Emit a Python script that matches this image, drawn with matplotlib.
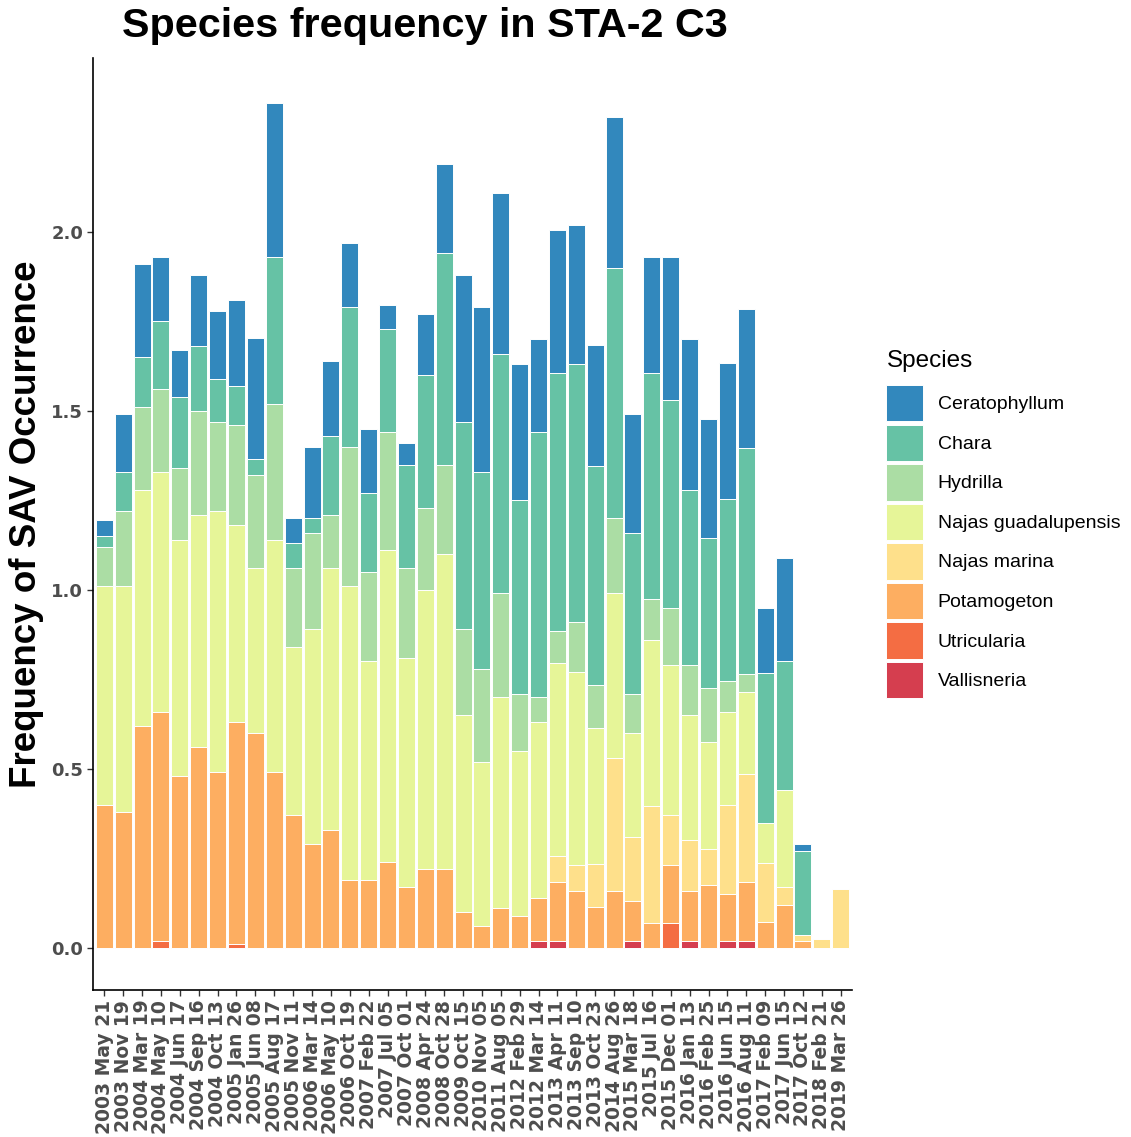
import matplotlib
matplotlib.use("Agg")
import matplotlib.pyplot as plt
import numpy as np

dates = ["2003 May 21", "2003 Nov 19", "2004 Mar 19", "2004 May 10", "2004 Jun 17",
         "2004 Sep 16", "2004 Oct 13", "2005 Jan 26", "2005 Jun 08", "2005 Aug 17",
         "2005 Nov 11", "2006 Mar 14", "2006 May 10", "2006 Oct 19", "2007 Feb 22",
         "2007 Jul 05", "2007 Oct 01", "2008 Apr 24", "2008 Oct 28", "2009 Oct 15",
         "2010 Nov 05", "2011 Aug 05", "2012 Feb 29", "2012 Mar 14", "2013 Apr 11",
         "2013 Sep 10", "2013 Oct 23", "2014 Aug 26", "2015 Mar 18", "2015 Jul 16",
         "2015 Dec 01", "2016 Jan 13", "2016 Feb 25", "2016 Jun 15", "2016 Aug 11",
         "2017 Feb 09", "2017 Jun 15", "2017 Oct 12", "2018 Feb 21", "2019 Mar 26"]

ceratophyllum = [0.045, 0.16, 0.26, 0.18, 0.13, 0.20, 0.19, 0.24, 0.34, 0.43,
                 0.07, 0.20, 0.21, 0.18, 0.18, 0.065, 0.06, 0.17, 0.25, 0.41,
                 0.46, 0.45, 0.38, 0.26, 0.40, 0.39, 0.34, 0.42, 0.33, 0.325,
                 0.40, 0.42, 0.33, 0.38, 0.39, 0.18, 0.29, 0.02, 0.0, 0.0]
chara = [0.03, 0.11, 0.14, 0.19, 0.20, 0.18, 0.12, 0.11, 0.045, 0.41,
         0.07, 0.04, 0.22, 0.39, 0.22, 0.29, 0.29, 0.37, 0.59, 0.58,
         0.55, 0.67, 0.54, 0.74, 0.72, 0.72, 0.61, 0.70, 0.45, 0.63,
         0.58, 0.49, 0.42, 0.51, 0.63, 0.42, 0.36, 0.235, 0.0, 0.0]
hydrilla = [0.11, 0.21, 0.23, 0.23, 0.20, 0.29, 0.25, 0.28, 0.26, 0.38,
            0.22, 0.27, 0.15, 0.39, 0.25, 0.33, 0.25, 0.23, 0.25, 0.24,
            0.26, 0.29, 0.16, 0.07, 0.09, 0.14, 0.12, 0.21, 0.11, 0.115,
            0.16, 0.14, 0.15, 0.085, 0.05, 0.0, 0.0, 0.0, 0.0, 0.0]
najas_guadalupensis = [0.61, 0.63, 0.66, 0.67, 0.66, 0.65, 0.73, 0.55, 0.46, 0.65,
                       0.47, 0.60, 0.73, 0.82, 0.61, 0.87, 0.64, 0.78, 0.88, 0.55,
                       0.46, 0.59, 0.46, 0.49, 0.54, 0.54, 0.38, 0.46, 0.29, 0.465,
                       0.42, 0.35, 0.30, 0.26, 0.23, 0.11, 0.27, 0.0, 0.0, 0.0]
najas_marina = [0.0, 0.0, 0.0, 0.0, 0.0, 0.0, 0.0, 0.0, 0.0, 0.0,
                0.0, 0.0, 0.0, 0.0, 0.0, 0.0, 0.0, 0.0, 0.0, 0.0,
                0.0, 0.0, 0.0, 0.0, 0.07, 0.07, 0.12, 0.37, 0.18, 0.325,
                0.14, 0.14, 0.10, 0.25, 0.30, 0.165, 0.05, 0.018, 0.024, 0.164]
potamogeton = [0.40, 0.38, 0.62, 0.64, 0.48, 0.56, 0.49, 0.62, 0.60, 0.49,
               0.37, 0.29, 0.33, 0.19, 0.19, 0.24, 0.17, 0.22, 0.22, 0.10,
               0.06, 0.11, 0.09, 0.12, 0.165, 0.16, 0.115, 0.16, 0.11, 0.07,
               0.16, 0.14, 0.176, 0.13, 0.165, 0.073, 0.12, 0.018, 0.0, 0.0]
utricularia = [0.0, 0.0, 0.0, 0.02, 0.0, 0.0, 0.0, 0.01, 0.0, 0.0,
               0.0, 0.0, 0.0, 0.0, 0.0, 0.0, 0.0, 0.0, 0.0, 0.0,
               0.0, 0.0, 0.0, 0.0, 0.0, 0.0, 0.0, 0.0, 0.0, 0.0,
               0.07, 0.0, 0.0, 0.0, 0.0, 0.0, 0.0, 0.0, 0.0, 0.0]
vallisneria = [0.0, 0.0, 0.0, 0.0, 0.0, 0.0, 0.0, 0.0, 0.0, 0.0,
               0.0, 0.0, 0.0, 0.0, 0.0, 0.0, 0.0, 0.0, 0.0, 0.0,
               0.0, 0.0, 0.0, 0.02, 0.02, 0.0, 0.0, 0.0, 0.02, 0.0,
               0.0, 0.02, 0.0, 0.02, 0.02, 0.0, 0.0, 0.0, 0.0, 0.0]

species = ["Ceratophyllum", "Chara", "Hydrilla", "Najas guadalupensis",
           "Najas marina", "Potamogeton", "Utricularia", "Vallisneria"]
values = [ceratophyllum, chara, hydrilla, najas_guadalupensis,
          najas_marina, potamogeton, utricularia, vallisneria]
colors = ["#3288BD", "#66C2A5", "#ABDDA4", "#E6F598",
          "#FEE08B", "#FDAE61", "#F46D43", "#D53E4F"]

W, H = 1131, 1137
fig = plt.figure(figsize=(W / 100, H / 100), dpi=100)
ax = fig.add_axes([93 / W, 1 - 990 / H, (852 - 93) / W, (990 - 58) / H])

x = np.arange(len(dates))
bottom = np.zeros(len(dates))
handles = {}
# stack from the bottom (Vallisneria) up to Ceratophyllum
for name, vals, col in reversed(list(zip(species, values, colors))):
    v = np.array(vals)
    bars = ax.bar(x, v, bottom=bottom, width=0.9, color=col,
                  edgecolor="white", linewidth=0.7, label=name)
    handles[name] = bars
    bottom += v

ax.set_xlim(-0.6, len(dates) - 0.4)
ax.set_ylim(-0.118, 2.486)
ax.set_yticks([0.0, 0.5, 1.0, 1.5, 2.0])
ax.set_yticklabels(["0.0", "0.5", "1.0", "1.5", "2.0"])
ax.set_xticks(x)
ax.set_xticklabels(dates, rotation=90)

for lab in ax.get_yticklabels():
    lab.set_fontfamily("DejaVu Sans")
    lab.set_fontweight("bold")
    lab.set_fontsize(13)
    lab.set_color("#4D4D4D")
for lab in ax.get_xticklabels():
    lab.set_fontfamily("DejaVu Sans")
    lab.set_fontweight("bold")
    lab.set_fontsize(13.5)
    lab.set_color("#4D4D4D")

for s in ["top", "right"]:
    ax.spines[s].set_visible(False)
for s in ["left", "bottom"]:
    ax.spines[s].set_linewidth(1.2)
    ax.spines[s].set_color("black")
ax.tick_params(axis="both", length=4, width=1.0, color="#333333", pad=3)

ax.set_ylabel("Frequency of SAV Occurrence", fontsize=26.5, fontweight="bold",
              family="Liberation Sans", labelpad=5)

fig.text(425 / W, 1 - 26 / H, "Species frequency in STA-2 C3", ha="center",
         va="center", fontsize=29.8, fontweight="bold", family="Liberation Sans")

fig.text(887 / W, 1 - 361 / H, "Species", ha="left", va="center",
         fontsize=17.5, family="Liberation Sans")

leg_handles = [handles[n] for n in species]
leg = fig.legend(leg_handles, species, loc="upper left",
                 bbox_to_anchor=(886 / W, 1 - 385 / H), frameon=False,
                 prop={"family": "Liberation Sans", "size": 14},
                 handlelength=1.9, handleheight=2.5, labelspacing=0.165,
                 handletextpad=0.75, borderpad=0, borderaxespad=0)
for p in leg.get_patches():
    p.set_edgecolor("white")

fig.savefig("out.png", dpi=100)
